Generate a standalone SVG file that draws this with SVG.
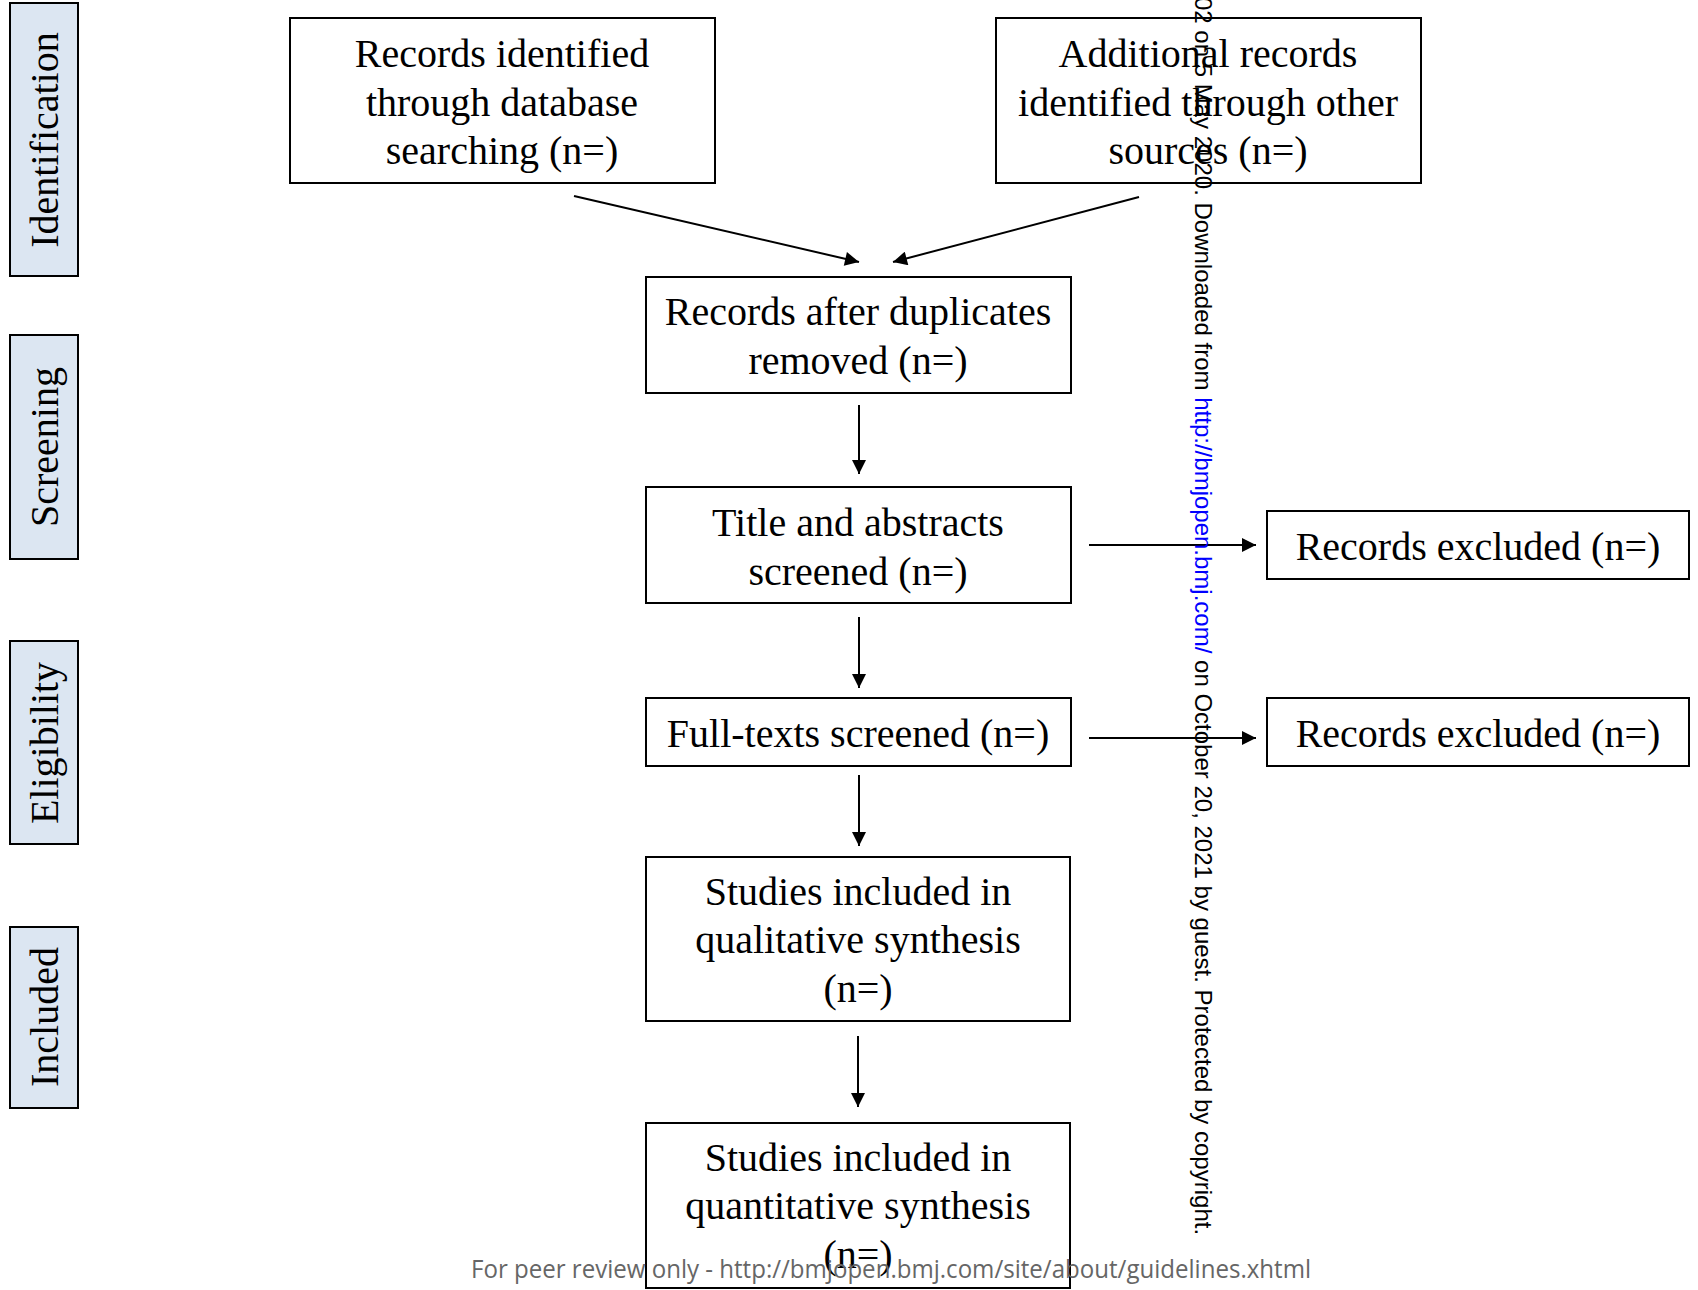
<svg xmlns="http://www.w3.org/2000/svg" width="1698" height="1290" viewBox="0 0 1698 1290">
<style>
.box{fill:#ffffff;stroke:#000000;stroke-width:2}
.lab{fill:#dce6f2;stroke:#000000;stroke-width:2}
.t{font-family:"Liberation Serif","Times New Roman",serif;font-size:40px;fill:#000000;text-anchor:middle}
.c{stroke:#000000;stroke-width:2;fill:none;marker-end:url(#ah)}
.wm{font-family:"Liberation Sans",Arial,sans-serif;font-size:24px;fill:#000000}
.ft{font-family:"Open Sans","Liberation Sans",sans-serif;font-size:25px;fill:#666666;text-anchor:middle}
</style>
<defs>
<marker id="ah" viewBox="0 0 10 10" refX="10" refY="5" markerWidth="15" markerHeight="14" markerUnits="userSpaceOnUse" orient="auto" >
<path d="M0,0 L10,5 L0,10 z" fill="#000000"/>
</marker>
</defs>
<rect width="1698" height="1290" fill="#ffffff"/>

<g id="stage-identification">
<rect class="lab" x="10" y="3" width="68" height="273"/>
<text class="t" transform="translate(58,140) rotate(-90)">Identification</text>
</g>
<g id="stage-screening">
<rect class="lab" x="10" y="335" width="68" height="224"/>
<text class="t" transform="translate(58,447) rotate(-90)">Screening</text>
</g>
<g id="stage-eligibility">
<rect class="lab" x="10" y="641" width="68" height="203"/>
<text class="t" transform="translate(58,743) rotate(-90)">Eligibility</text>
</g>
<g id="stage-included">
<rect class="lab" x="10" y="927" width="68" height="181"/>
<text class="t" transform="translate(58,1017) rotate(-90)">Included</text>
</g>

<g id="node-database">
<rect class="box" x="290" y="18" width="425" height="165"/>
<text class="t" x="502" y="67">Records identified</text>
<text class="t" x="502" y="116">through database</text>
<text class="t" x="502" y="164">searching (n=)</text>
</g>
<g id="node-other">
<rect class="box" x="996" y="18" width="425" height="165"/>
<text class="t" x="1208" y="67">Additional records</text>
<text class="t" x="1208" y="116">identified through other</text>
<text class="t" x="1208" y="164">sources (n=)</text>
</g>
<g id="node-duplicates">
<rect class="box" x="646" y="277" width="425" height="116"/>
<text class="t" x="858" y="325">Records after duplicates</text>
<text class="t" x="858" y="374">removed (n=)</text>
</g>
<g id="node-title">
<rect class="box" x="646" y="487" width="425" height="116"/>
<text class="t" x="858" y="536">Title and abstracts</text>
<text class="t" x="858" y="585">screened (n=)</text>
</g>
<g id="node-fulltext">
<rect class="box" x="646" y="698" width="425" height="68"/>
<text class="t" x="858" y="747">Full-texts screened (n=)</text>
</g>
<g id="node-qualitative">
<rect class="box" x="646" y="857" width="424" height="164"/>
<text class="t" x="858" y="905">Studies included in</text>
<text class="t" x="858" y="953">qualitative synthesis</text>
<text class="t" x="858" y="1002">(n=)</text>
</g>
<g id="node-quantitative">
<rect class="box" x="646" y="1123" width="424" height="165"/>
<text class="t" x="858" y="1171">Studies included in</text>
<text class="t" x="858" y="1219">quantitative synthesis</text>
<text class="t" x="858" y="1268">(n=)</text>
</g>
<g id="node-excluded1">
<rect class="box" x="1267" y="511" width="422" height="68"/>
<text class="t" x="1478" y="560">Records excluded (n=)</text>
</g>
<g id="node-excluded2">
<rect class="box" x="1267" y="698" width="422" height="68"/>
<text class="t" x="1478" y="747">Records excluded (n=)</text>
</g>

<g id="connectors">
<line class="c" x1="574" y1="196" x2="859" y2="262"/>
<line class="c" x1="1139" y1="197" x2="893" y2="262"/>
<line class="c" x1="859" y1="405" x2="859" y2="474"/>
<line class="c" x1="859" y1="617" x2="859" y2="688"/>
<line class="c" x1="859" y1="775" x2="859" y2="846"/>
<line class="c" x1="858" y1="1036" x2="858" y2="1107"/>
<line class="c" x1="1089" y1="545" x2="1256" y2="545"/>
<line class="c" x1="1089" y1="738" x2="1256" y2="738"/>
</g>

<g id="watermark">
<text class="wm" transform="translate(1195,0) rotate(90)" x="-3" y="0">02 on 5 May 2020. Downloaded from <tspan fill="#0000ff">http://bmjopen.bmj.com/</tspan> on October 20, 2021 by guest. Protected by copyright.</text>
<text class="ft" x="891" y="1278" textLength="840" lengthAdjust="spacingAndGlyphs">For peer review only - http://bmjopen.bmj.com/site/about/guidelines.xhtml</text>
</g>
</svg>
